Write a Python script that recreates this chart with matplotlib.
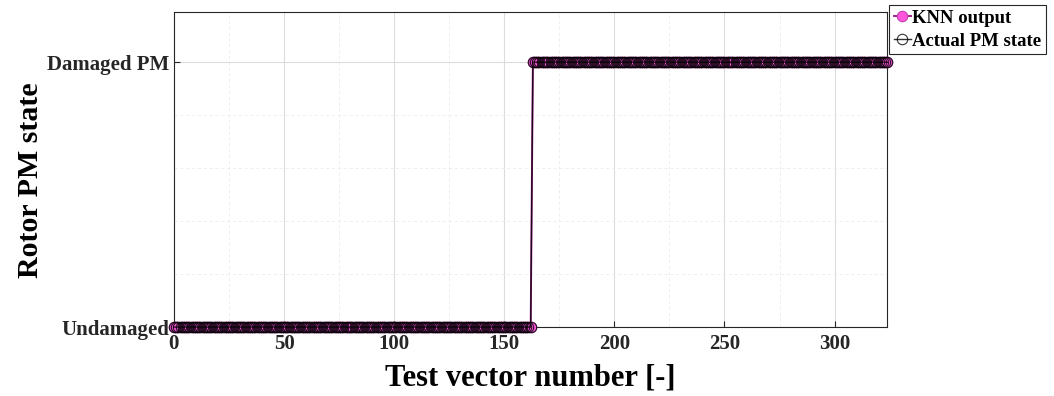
import matplotlib.pyplot as plt
import numpy as np

# test vectors and states (0 = undamaged, 1 = damaged PM)
test_idx = np.arange(0, 325)
n_undamaged = 163
actual_state = np.r_[np.zeros(n_undamaged), np.ones(len(test_idx) - n_undamaged)]
knn_state = actual_state.copy()

y_ticks = [0, 1]
y_labels = ["Undamaged", "Damaged PM"]
x_ticks = [0, 50, 100, 150, 200, 250, 300]

plt.rcParams["font.family"] = ["Liberation Serif", "DejaVu Serif"]
plt.rcParams["font.weight"] = "bold"

fig = plt.figure(figsize=(10.54, 3.96), dpi=100)
ax = fig.add_axes([0.165, 0.174, 0.677, 0.796])

ax.plot(test_idx, knn_state, color="#a0208a", lw=1.4, marker="o", ms=7.5,
        mfc="#ff55dd", mec="#c040b0", mew=0.8, label="KNN output", zorder=3,
        clip_on=False)
ax.plot(test_idx, actual_state, color="black", lw=1.0, marker="o", ms=7.5,
        mfc="none", mec="black", mew=0.8, label="Actual PM state", alpha=0.8,
        zorder=4, clip_on=False)

ax.set_xlim(0, 324)
ax.set_ylim(0, 1.19)
ax.set_xticks(x_ticks)
ax.set_yticks(y_ticks)
ax.set_yticklabels(y_labels)
ax.set_xticks(np.arange(0, 325, 25), minor=True)
ax.set_yticks(np.arange(0, 1.2, 0.2), minor=True)
ax.tick_params(axis="both", which="major", labelsize=15, colors="#262626", length=4, direction="in")
ax.tick_params(axis="x", which="major", pad=5)
ax.tick_params(axis="both", which="minor", length=0)
ax.grid(True, which="major", color="#dcdcdc", lw=0.8)
ax.grid(True, which="minor", color="#ececec", lw=0.6, ls=(0, (4, 3)))
for s in ax.spines.values():
    s.set_color("#262626")
    s.set_linewidth(0.8)

ax.set_xlabel("Test vector number [-]", fontsize=22, fontweight="bold", labelpad=7)
ax.set_ylabel("Rotor PM state", fontsize=21.5, fontweight="bold")
ax.yaxis.set_label_coords(-0.182, 0.467)

leg = fig.legend(loc="upper left", bbox_to_anchor=(889 / 1054, 1 - 5 / 396),
                 bbox_transform=fig.transFigure, fontsize=13.5, handlelength=0.9,
                 handletextpad=0.1, borderpad=0.25, labelspacing=0.3,
                 fancybox=False, framealpha=1, edgecolor="#262626", borderaxespad=0)
leg.get_frame().set_linewidth(0.8)

plt.savefig("out.png", dpi=100)
